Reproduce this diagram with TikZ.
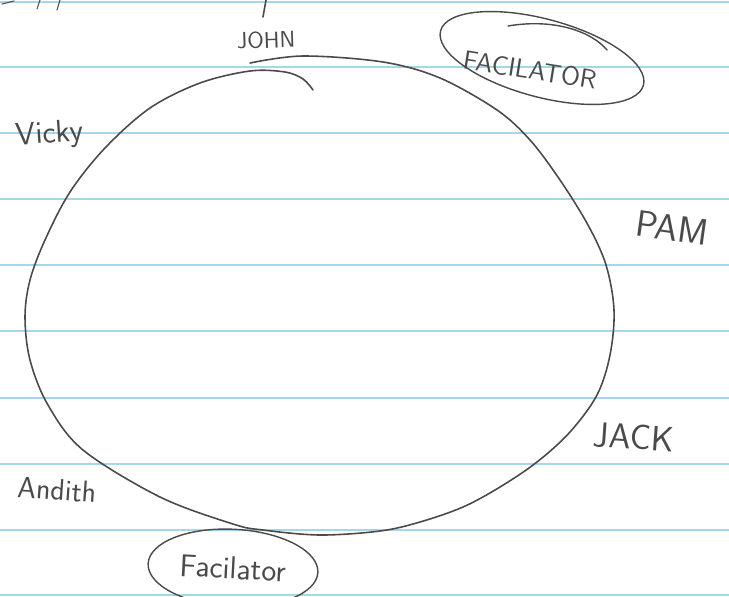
\documentclass[tikz,border=0pt]{standalone}
\usepackage{tikz}
\usetikzlibrary{shapes.geometric}
\definecolor{pencil}{HTML}{4A4A4A}
\definecolor{ruled}{HTML}{A6D6EC}

\begin{document}
\begin{tikzpicture}[
    x=0.02cm, y=-0.02cm,
    rule/.style={ruled, line width=1pt},
    stroke/.style={pencil, line width=0.9pt, line cap=round},
    guest/.style={text=pencil, inner sep=0pt},
    facil/.style={ellipse, draw=pencil, text=pencil, line width=0.8pt, inner sep=0pt}
]
\useasboundingbox (0,0) rectangle (729,596);
\clip (0,0) rectangle (729,596);

% Ruled paper
\foreach \y in {2,67,133,199,265,331,398,464,530,595}
    \draw[rule] (0,\y) -- (729,\y);

% Bits of writing cut off at the top edge
\draw[stroke, line width=0.6pt] (2,4) -- (14,1);
\draw[stroke, line width=0.6pt] (40,0) -- (37,9);
\draw[stroke, line width=0.6pt] (60,0) -- (57,10);
\draw[stroke] (266,0) -- (263,17);

% The circle (two strokes)
\draw[stroke] plot[smooth, tension=0.55] coordinates {
    (250,63) (303,56) (383,62) (440,78) (497,110) (530,140)
    (560,180) (588,225) (606,265) (614,310) (610,355) (597,395)
    (570,432) (537,462) (500,487) (463,507) (420,522) (380,531) (320,535)
    (263,530) (233,524) (160,497) (83,450) (48,405) (30,360) (25,317)
    (30,280) (45,240) (70,192) (105,148) (150,108) (200,83) (250,71)
    (285,72) (303,79) (313,90)};

% Names around the circle
\node[guest, font=\sffamily\fontsize{13}{15}\selectfont, rotate=2] (john) at (266,40) {JOHN};
\node[guest, font=\sffamily\fontsize{18}{20}\selectfont, rotate=4] (vicky) at (50,135) {Vicky};
\node[guest, font=\sffamily\fontsize{21}{24}\selectfont, rotate=-8] (pam) at (672,228) {PAM};
\node[guest, font=\sffamily\fontsize{20}{22}\selectfont, rotate=-4] (jack) at (634,437) {JACK};
\node[guest, font=\sffamily\fontsize{17}{20}\selectfont, rotate=-4] (andith) at (57,490) {Andith};

% Facilators, circled
\node[guest, font=\sffamily\fontsize{15}{18}\selectfont, rotate=-9] (facTop) at (530,70) {FACILATOR};
\draw[stroke, line width=0.8pt, rotate around={-15:(542,58)}] (542,58) ellipse [x radius=105, y radius=39];
\draw[stroke, line width=0.8pt] (508,26) .. controls (555,18) and (592,32) .. (607,50);

\node[facil, font=\sffamily\fontsize{18}{21}\selectfont, rotate=-3, minimum width=3.4cm, minimum height=1.55cm] (facBot) at (233,568) {Facilator};

\end{tikzpicture}
\end{document}
